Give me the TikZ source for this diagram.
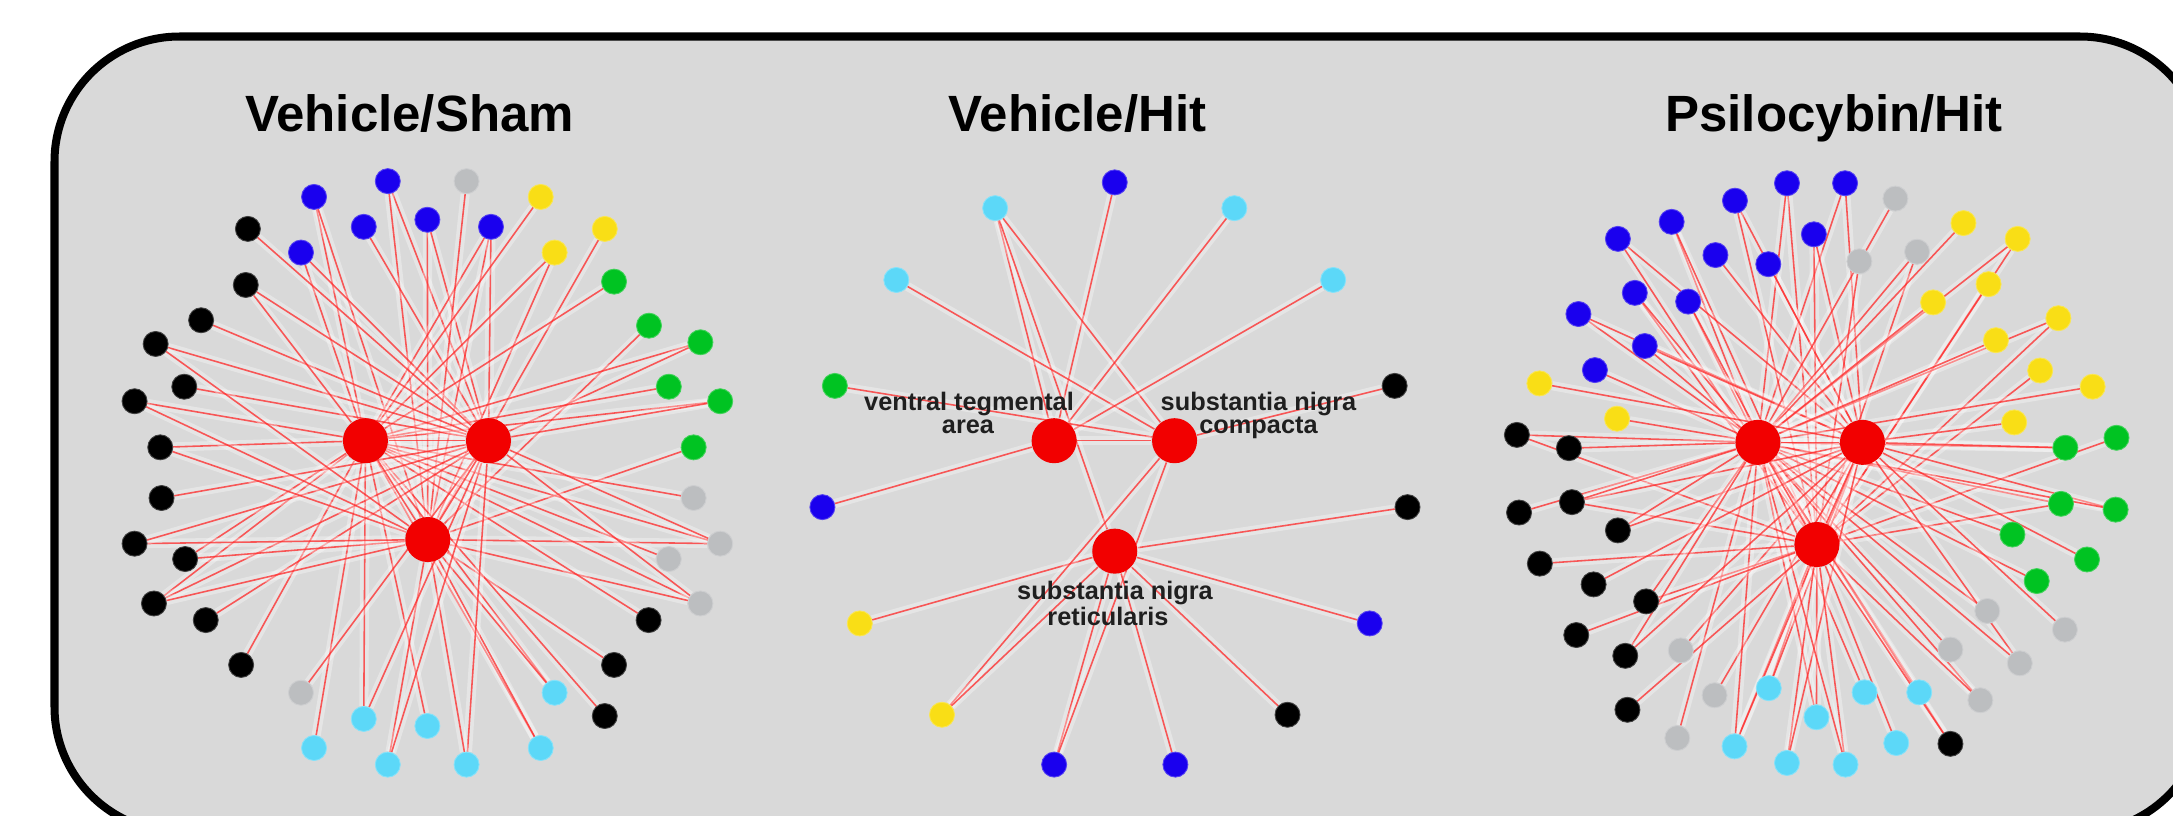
\documentclass[tikz,border=0pt]{standalone}
\usepackage{fontspec}
\setmainfont{Liberation Sans}
\definecolor{panelbg}{HTML}{D9D9D9}
\definecolor{hubred}{HTML}{F20000}
\definecolor{nblue}{HTML}{1A00EE}
\definecolor{ngray}{HTML}{BCBEC0}
\definecolor{nyel}{HTML}{F9DE16}
\definecolor{ngreen}{HTML}{00C322}
\definecolor{ncyan}{HTML}{5CD8F8}
\definecolor{nblack}{HTML}{000000}
\definecolor{linkred}{HTML}{FF2020}
\pgfdeclarelayer{bg}
\pgfdeclarelayer{links}
\pgfsetlayers{bg,links,main}
\tikzset{
  hub/.style={circle, fill=hubred, minimum size=0.45cm, inner sep=0pt},
  leaf/.style={circle, fill=#1, draw=#1!75!white, line width=0.25pt, minimum size=0.25cm, inner sep=0pt},
  link/.style={draw=linkred, draw opacity=0.72, line width=0.45pt,
    preaction={draw=white, draw opacity=0.33, line width=2.6pt}},
  ttl/.style={font=\bfseries\fontsize{14.5}{17}\selectfont, anchor=base},
  lbl/.style={font=\bfseries\fontsize{7.2}{8}\selectfont, anchor=base, text=black!88},
}
\begin{document}
\begin{tikzpicture}[x=0.01cm, y=-0.01cm]
\useasboundingbox (0,0) rectangle (2173,815);

% panel frame
\begin{pgfonlayer}{bg}
  \fill[white] (0,0) rectangle (2173,815);
  \draw[line width=0.08cm, fill=panelbg, rounded corners=1.25cm] (54.5,36.5) rectangle (2205,832);
\end{pgfonlayer}

% titles
\node[ttl] (t1) at (409.5,131) {Vehicle/Sham};
\node[ttl] (t2) at (1077.5,131) {Vehicle/Hit};
\node[ttl] (t3) at (1834,131) {Psilocybin/Hit};

% ---------------- Vehicle/Sham ----------------
\begin{scope}[shift={(100,150)}, x=0.004209cm, y=-0.004145cm]
  \node[hub] (LA) at (630,700) {};
  \node[hub] (LB) at (922,700) {};
  \node[hub] (LC) at (778,938) {};
  \foreach \n/\x/\y/\c in {1/508/113/nblue, 2/683/75/nblue, 3/626/185/nblue, 4/777/168/nblue,
    5/928/185/nblue, 6/477/247/nblue, 7/870/75/ngray, 8/1046/113/nyel, 9/1198/190/nyel,
    10/1079/247/nyel, 11/1220/317/ngreen, 12/1303/423/ngreen, 13/1425/463/ngreen,
    14/1350/570/ngreen, 15/1472/605/ngreen, 16/1409/716/ngreen, 17/1409/838/ngray,
    18/1472/948/ngray, 19/1350/985/ngray, 20/1425/1092/ngray, 21/1302/1132/nblack,
    22/1220/1240/nblack, 23/1198/1363/nblack, 24/1079/1307/ncyan, 25/1046/1440/ncyan,
    26/870/1480/ncyan, 27/777/1387/ncyan, 28/683/1480/ncyan, 29/626/1370/ncyan,
    30/508/1440/ncyan, 31/477/1307/ngray, 32/335/1240/nblack, 33/251/1132/nblack,
    34/128/1092/nblack, 35/202/985/nblack, 36/82/948/nblack, 37/146/838/nblack,
    38/143/716/nblack, 39/82/605/nblack, 40/200/570/nblack, 41/132/467/nblack,
    42/240/410/nblack, 43/346/325/nblack, 44/351/190/nblack}
    \node[leaf=\c] (L\n) at (\x,\y) {};
\end{scope}

% ---------------- Vehicle/Hit ----------------
\begin{scope}[shift={(790,150)}, x=0.004145cm, y=-0.004145cm]
  \node[hub] (MV) at (636,700) {};
  \node[hub] (MC) at (926,700) {};
  \node[hub] (MR) at (782,966) {};
  \foreach \n/\x/\y/\c in {1/782/78/nblue, 2/494/140/ncyan, 3/1070/140/ncyan, 4/256/313/ncyan,
    5/1308/313/ncyan, 6/108/568/ngreen, 7/1456/568/nblack, 8/78/860/nblue, 9/1487/860/nblack,
    10/168/1140/nyel, 11/1396/1140/nblue, 12/366/1360/nyel, 13/1198/1360/nblack,
    14/636/1480/nblue, 15/928/1480/nblue}
    \node[leaf=\c] (M\n) at (\x,\y) {};
\end{scope}
\node[lbl] (vta1) at (969,410) {ventral tegmental};
\node[lbl] (vta2) at (968,433) {area};
\node[lbl] (snc1) at (1258.5,410) {substantia nigra};
\node[lbl] (snc2) at (1258.5,433) {compacta};
\node[lbl] (snr1) at (1115,599) {substantia nigra};
\node[lbl] (snr2) at (1108,625) {reticularis};

% ---------------- Psilocybin/Hit ----------------
\begin{scope}[shift={(1480,150)}, x=0.004337cm, y=-0.004145cm]
  \node[hub] (RA) at (641,704) {};
  \node[hub] (RB) at (882,704) {};
  \node[hub] (RC) at (777,950) {};
  \foreach \n/\x/\y/\c in {1/708/80/nblue, 2/842/80/nblue, 3/588/122/nblue, 4/442/173/nblue,
    5/318/214/nblue, 6/770/203/nblue, 7/543/253/nblue, 8/665/275/nblue, 9/357/344/nblue,
    10/480/365/nblue, 11/227/395/nblue, 12/380/472/nblue, 13/265/530/nblue,
    14/958/117/ngray, 15/1008/245/ngray, 16/875/268/ngray,
    17/1115/176/nyel, 18/1240/214/nyel, 19/1173/323/nyel, 20/1045/367/nyel, 21/1334/405/nyel,
    22/1190/458/nyel, 23/1292/531/nyel, 24/1413/570/nyel, 25/1232/656/nyel, 26/137/562/nyel,
    27/316/647/nyel,
    28/1468/693/ngreen, 29/1350/717/ngreen, 30/1340/852/ngreen, 31/1466/866/ngreen,
    32/1228/926/ngreen, 33/1400/986/ngreen, 34/1284/1038/ngreen,
    35/1170/1110/ngray, 36/1349/1155/ngray, 37/1085/1203/ngray, 38/1245/1236/ngray,
    39/1154/1325/ngray, 40/463/1205/ngray, 41/541/1313/ngray, 42/455/1416/ngray,
    43/666/1296/ncyan, 44/887/1306/ncyan, 45/1013/1306/ncyan, 46/776/1366/ncyan,
    47/587/1436/ncyan, 48/708/1476/ncyan, 49/843/1480/ncyan, 50/960/1428/ncyan,
    51/1085/1430/nblack, 52/85/686/nblack, 53/205/718/nblack, 54/90/873/nblack,
    55/212/848/nblack, 56/318/916/nblack, 57/138/996/nblack, 58/262/1046/nblack,
    59/383/1087/nblack, 60/222/1168/nblack, 61/335/1218/nblack, 62/340/1348/nblack}
    \node[leaf=\c] (R\n) at (\x,\y) {};
\end{scope}

% connections
\begin{pgfonlayer}{links}
  \foreach \a/\b in {1/A,1/C,2/B,2/C,3/B,4/C,4/B,5/A,5/C,5/B,6/A,6/B,7/C,8/A,9/C,10/C,10/A,
    11/A,12/C,13/A,13/B,14/A,15/A,15/B,16/C,17/A,18/C,18/A,18/B,19/A,20/A,20/B,20/C,21/A,
    22/C,23/A,24/A,24/C,25/A,25/C,26/B,26/C,27/A,28/C,28/B,29/A,29/B,30/A,31/B,32/A,33/B,
    34/A,34/B,34/C,35/C,35/A,36/C,36/B,37/B,38/A,38/C,39/A,39/C,40/B,41/B,41/C,42/B,43/A,
    43/B,44/B,A/B,A/C,B/C}
    \path[link] (L\a) -- (L\b);
  \foreach \a/\b in {1/V,2/V,2/R,2/C,3/V,4/C,5/V,6/C,7/C,8/V,9/R,10/R,11/R,12/C,12/R,13/R,
    14/R,14/C,15/R,V/C}
    \path[link] (M\a) -- (M\b);
  \foreach \a/\b in {1/C,1/A,2/A,2/B,3/B,3/C,4/A,4/C,5/B,5/C,6/C,6/B,7/B,8/B,9/C,9/A,10/A,
    10/C,11/A,11/B,12/B,12/A,13/A,14/A,15/C,15/A,16/C,17/A,18/C,18/A,19/C,20/A,21/C,21/A,
    22/A,23/C,24/A,25/B,26/B,27/A,28/C,29/A,29/B,30/A,30/C,31/B,31/A,32/A,33/B,34/A,35/A,
    36/B,37/A,38/B,38/A,39/A,39/C,40/B,41/B,42/A,43/C,43/B,44/A,45/A,46/A,46/C,47/C,47/B,
    47/A,48/C,48/B,49/C,49/A,50/C,51/A,51/C,52/A,52/C,53/A,54/A,55/B,55/C,55/A,56/A,56/B,
    57/C,58/B,59/A,59/C,60/C,61/A,61/B,62/C,A/B,A/C,B/C}
    \path[link] (R\a) -- (R\b);
\end{pgfonlayer}
\end{tikzpicture}
\end{document}
